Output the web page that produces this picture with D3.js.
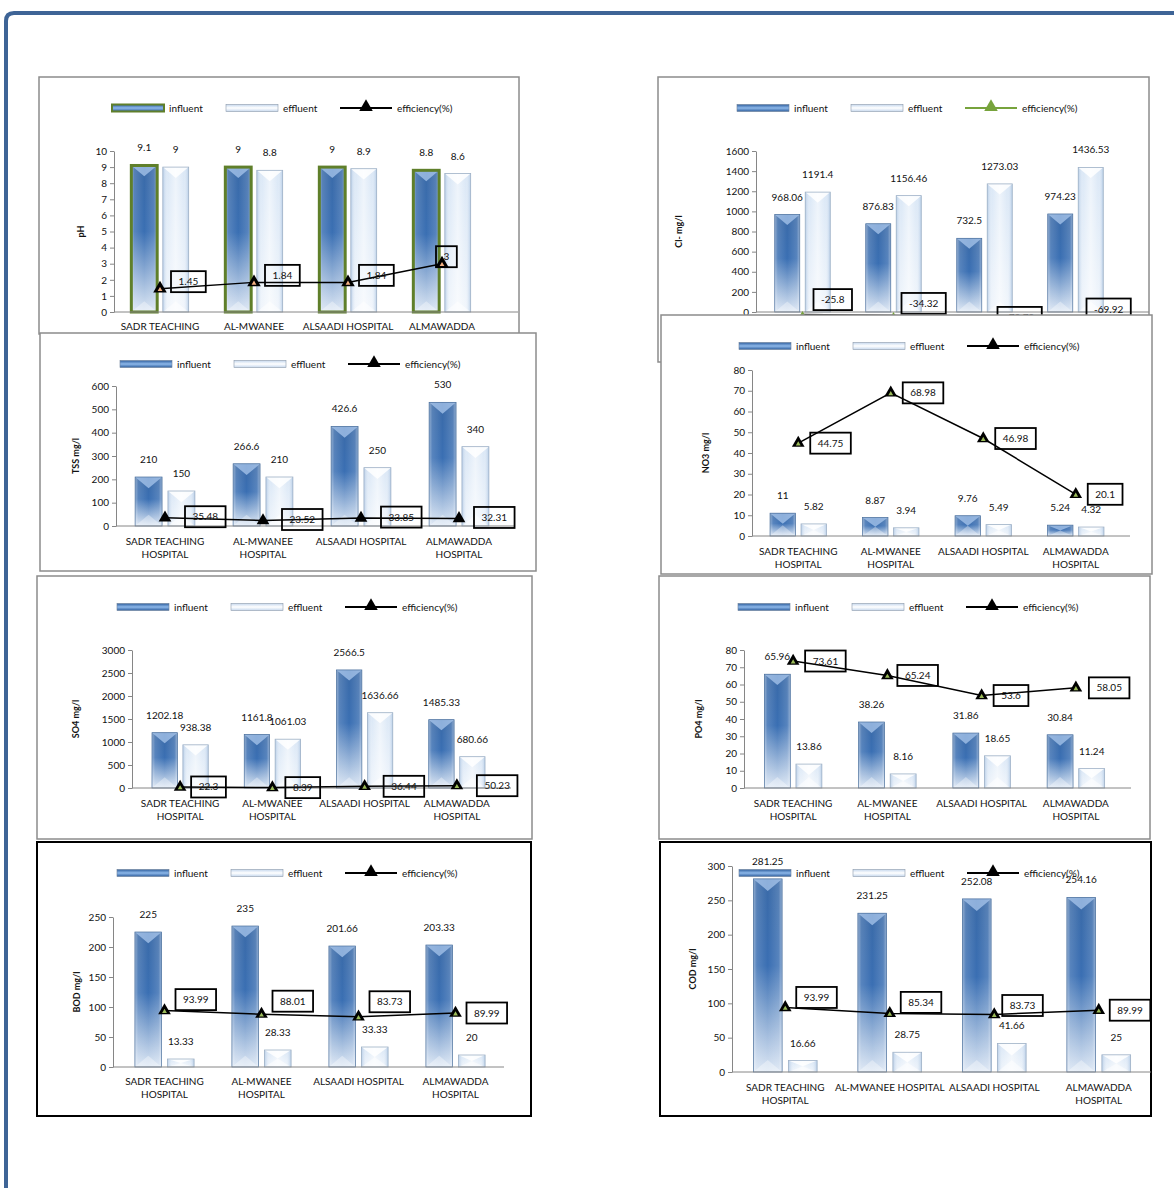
<!DOCTYPE html>
<html>
<head>
<meta charset="utf-8">
<script src="https://cdn.jsdelivr.net/npm/d3@7"></script>
<style>
body { margin: 0; background: #fff; }
svg text { font-family: Lato, "Liberation Sans", sans-serif; fill: #111; }
</style>
</head>
<body>
<svg id="fig" width="1174" height="1188"></svg>
<script>
// categories and labels
var hospitals = ["SADR TEACHING HOSPITAL", "AL-MWANEE HOSPITAL", "ALSAADI HOSPITAL", "ALMAWADDA HOSPITAL"];
var catLines = [["SADR TEACHING", "HOSPITAL"], ["AL-MWANEE", "HOSPITAL"], ["ALSAADI HOSPITAL"], ["ALMAWADDA", "HOSPITAL"]];
var catLinesCod = [["SADR TEACHING", "HOSPITAL"], ["AL-MWANEE HOSPITAL"], ["ALSAADI HOSPITAL"], ["ALMAWADDA", "HOSPITAL"]];

// values
var phIn = [9.1, 9, 9, 8.8], phOut = [9, 8.8, 8.9, 8.6], phEff = [1.45, 1.84, 1.84, 3];
var clIn = [968.06, 876.83, 732.5, 974.23], clOut = [1191.4, 1156.46, 1273.03, 1436.53], clEff = [-25.8, -34.32, -73.79, -69.92];
var tssIn = [210, 266.6, 426.6, 530], tssOut = [150, 210, 250, 340], tssEff = [35.48, 23.52, 33.85, 32.31];
var no3In = [11, 8.87, 9.76, 5.24], no3Out = [5.82, 3.94, 5.49, 4.32], no3Eff = [44.75, 68.98, 46.98, 20.1];
var so4In = [1202.18, 1161.8, 2566.5, 1485.33], so4Out = [938.38, 1061.03, 1636.66, 680.66], so4Eff = [22.3, 8.39, 36.44, 50.23];
var po4In = [65.96, 38.26, 31.86, 30.84], po4Out = [13.86, 8.16, 18.65, 11.24], po4Eff = [73.61, 65.24, 53.6, 58.05];
var bodIn = [225, 235, 201.66, 203.33], bodOut = [13.33, 28.33, 33.33, 20], bodEff = [93.99, 88.01, 83.73, 89.99];
var codIn = [281.25, 231.25, 252.08, 254.16], codOut = [16.66, 28.75, 41.66, 25], codEff = [93.99, 85.34, 83.73, 89.99];

// y tick labels
var phTicks = [0, 1, 2, 3, 4, 5, 6, 7, 8, 9, 10];
var clTicks = [0, 200, 400, 600, 800, 1000, 1200, 1400, 1600];
var tssTicks = [0, 100, 200, 300, 400, 500, 600];
var no3Ticks = [0, 10, 20, 30, 40, 50, 60, 70, 80];
var so4Ticks = [0, 500, 1000, 1500, 2000, 2500, 3000];
var po4Ticks = [0, 10, 20, 30, 40, 50, 60, 70, 80];
var bodTicks = [0, 50, 100, 150, 200, 250];
var codTicks = [0, 50, 100, 150, 200, 250, 300];

var seriesNames = ["influent", "effluent", "efficiency(%)"];

var FS = 10;

var svg = d3.select("#fig");
svg.append("rect").attr("width", 1174).attr("height", 1188).attr("fill", "#fff");

// gradients for the bevelled bars
var defs = svg.append("defs");
function grad(id, stops, vertical) {
  var lg = defs.append("linearGradient").attr("id", id)
    .attr("x1", 0).attr("y1", 0).attr("x2", vertical ? 0 : 1).attr("y2", vertical ? 1 : 0);
  stops.forEach(function (s) {
    lg.append("stop").attr("offset", s[0]).attr("stop-color", s[1]).attr("stop-opacity", s[2] == null ? 1 : s[2]);
  });
}
grad("inV", [[0, "#3a6aa8"], [0.45, "#3a6fb3"], [1, "#dbe6f4"]], true);
grad("inH", [[0, "#ffffff", 0.45], [0.12, "#ffffff", 0.15], [0.5, "#ffffff", 0], [0.88, "#ffffff", 0.15], [1, "#ffffff", 0.45]], false);
grad("outV", [[0, "#d2e2f4"], [1, "#eef4fb"]], true);
grad("outH", [[0, "#b4cbe6", 0.9], [0.2, "#ffffff", 0.2], [0.5, "#ffffff", 0.6], [0.8, "#ffffff", 0.2], [1, "#b4cbe6", 0.9]], false);
grad("legIn", [[0, "#2f5f9e"], [0.5, "#8db8ea"], [1, "#2f5f9e"]], true);
grad("legOut", [[0, "#c6d8ee"], [0.5, "#ffffff"], [1, "#c6d8ee"]], true);

// outer frame
svg.append("path").attr("d", "M6,1188 V21 Q6,13 14,13 H1174")
  .attr("fill", "none").attr("stroke", "#3e6496").attr("stroke-width", 4);

var panels = [
  { title: "pH", inf: phIn, out: phOut, pct: phEff, ticks: phTicks, cats: catLines,
    box: [39, 77, 480, 257], border: "#8c8c8c", bw: 1.5,
    ax: 114, x0: 113, x1: 489, xEnd: 518, y0: 312, yTop: 151, titleX: 81, legX: 73, catY: 14,
    dx: [11, 11, 11, -6], dy: [-7, -7, -7, -7], mk: 80, mkFill: "#000", dot: "#f4b183",
    lineColor: "#000", legColor: "#000", inStroke: "#5f7f2a" },
  // category labels of this panel lie under the NO3 panel, as in the figure
  { title: "Cl- mg/l", inf: clIn, out: clOut, pct: clEff, ticks: clTicks, cats: null,
    box: [658, 77, 491, 285], border: "#8c8c8c", bw: 1.5,
    ax: 756, x0: 757, x1: 1121, xEnd: 1149, y0: 312, yTop: 151, titleX: 679, legX: 79, catY: 15,
    dx: [11, 8, 13, 11], dy: [-15, -12, -2, -10], mk: 16, mkFill: "#77a33c", dot: null,
    lineColor: "#000", legColor: "#77a33c" },
  { title: "TSS mg/l", inf: tssIn, out: tssOut, pct: tssEff, ticks: tssTicks, cats: catLines,
    box: [40, 333, 496, 238], border: "#8c8c8c", bw: 1.5,
    ax: 116, x0: 116, x1: 508, xEnd: 515, y0: 526, yTop: 386, titleX: 76, legX: 80, catY: 15,
    dx: [20, 19, 20, 15], dy: [-1, -1, -1, -1], mk: 70, mkFill: "#000", dot: null,
    lineColor: "#000", legColor: "#000" },
  { title: "NO3 mg/l", inf: no3In, out: no3Out, pct: no3Eff, ticks: no3Ticks, cats: catLines,
    box: [661, 315, 491, 259], border: "#8c8c8c", bw: 1.5,
    ax: 752, x0: 752, x1: 1122, xEnd: 1130, y0: 536, yTop: 370, titleX: 706, legX: 78, catY: 15,
    dx: [12, 12, 12, 12], dy: [0, 0, 0, 0], mk: 70, mkFill: "#000", dot: "#9bbb59",
    lineColor: "#000", legColor: "#000" },
  { title: "SO4 mg/l", inf: so4In, out: so4Out, pct: so4Eff, ticks: so4Ticks, cats: catLines,
    box: [37, 576, 495, 263], border: "#8c8c8c", bw: 1.5,
    ax: 132, x0: 134, x1: 503, xEnd: 511, y0: 788, yTop: 650, titleX: 76, legX: 80, catY: 15,
    dx: [11, 13, 19, 20], dy: [0, 0, 0, 0], mk: 70, mkFill: "#000", dot: "#9bbb59",
    lineColor: "#000", legColor: "#000" },
  { title: "PO4 mg/l", inf: po4In, out: po4Out, pct: po4Eff, ticks: po4Ticks, cats: catLines,
    box: [659, 576, 491, 263], border: "#8c8c8c", bw: 1.5,
    ax: 744, x0: 746, x1: 1123, xEnd: 1131, y0: 788, yTop: 650, titleX: 699, legX: 79, catY: 15,
    dx: [12, 10, 12, 13], dy: [0, 0, 0, 0], mk: 70, mkFill: "#000", dot: "#9bbb59",
    lineColor: "#000", legColor: "#000" },
  { title: "BOD mg/l", inf: bodIn, out: bodOut, pct: bodEff, ticks: bodTicks, cats: catLines,
    box: [37, 842, 494, 274], border: "#000", bw: 2,
    ax: 113, x0: 116, x1: 504, xEnd: 504, y0: 1067, yTop: 917, titleX: 77, legX: 80, catY: 14,
    dx: [11, 11, 11, 11], dy: [-11, -13, -15, 0], mk: 70, mkFill: "#000", dot: "#9bbb59",
    lineColor: "#000", legColor: "#000" },
  { title: "COD mg/l", inf: codIn, out: codOut, pct: codEff, ticks: codTicks, cats: catLinesCod,
    box: [660, 842, 491, 274], border: "#000", bw: 2,
    ax: 732, x0: 733, x1: 1151, xEnd: 1151, y0: 1072, yTop: 866, titleX: 693, legX: 79, catY: 15,
    dx: [11, 11, 8, 11], dy: [-10, -11, -9, 0], mk: 70, mkFill: "#000", dot: "#9bbb59",
    lineColor: "#000", legColor: "#000" }
];

function drawBar(g, x, yTop, w, yBase, kind, stroke) {
  var h = Math.max(yBase - yTop, 0);
  var d = Math.min(w * 0.42, h / 2);
  if (kind == "in") {
    g.append("rect").attr("x", x).attr("y", yTop).attr("width", w).attr("height", h)
      .attr("fill", "url(#inV)");
    g.append("rect").attr("x", x).attr("y", yTop).attr("width", w).attr("height", h)
      .attr("fill", "url(#inH)");
    g.append("path").attr("d", "M" + x + "," + yTop + "H" + (x + w) + "L" + (x + w / 2) + "," + (yTop + d) + "Z")
      .attr("fill", "#a9c7ec").attr("opacity", 0.75);
    g.append("path").attr("d", "M" + x + "," + yBase + "H" + (x + w) + "L" + (x + w / 2) + "," + (yBase - d) + "Z")
      .attr("fill", "#ffffff").attr("opacity", 0.35);
    g.append("rect").attr("x", x).attr("y", yTop).attr("width", w).attr("height", h)
      .attr("fill", "none").attr("stroke", stroke || "#4a6f9c").attr("stroke-width", stroke ? 3 : 0.7);
  } else {
    g.append("rect").attr("x", x).attr("y", yTop).attr("width", w).attr("height", h)
      .attr("fill", "url(#outV)");
    g.append("rect").attr("x", x).attr("y", yTop).attr("width", w).attr("height", h)
      .attr("fill", "url(#outH)");
    g.append("path").attr("d", "M" + x + "," + yTop + "H" + (x + w) + "L" + (x + w / 2) + "," + (yTop + d) + "Z")
      .attr("fill", "#ffffff").attr("opacity", 0.85);
    g.append("path").attr("d", "M" + x + "," + yBase + "H" + (x + w) + "L" + (x + w / 2) + "," + (yBase - d) + "Z")
      .attr("fill", "#ffffff").attr("opacity", 0.5);
    g.append("rect").attr("x", x).attr("y", yTop).attr("width", w).attr("height", h)
      .attr("fill", "none").attr("stroke", "#9fb1c6").attr("stroke-width", 0.8);
  }
}

function drawLegend(g, p) {
  var lx = p.box[0] + p.legX, ly = p.box[1] + 31;
  g.append("rect").attr("x", lx).attr("y", ly - 3.5).attr("width", 52).attr("height", 7)
    .attr("fill", "url(#legIn)").attr("stroke", p.inStroke || "#6b7f99").attr("stroke-width", p.inStroke ? 2 : 0.6);
  g.append("rect").attr("x", lx + 114).attr("y", ly - 3.5).attr("width", 52).attr("height", 7)
    .attr("fill", "url(#legOut)").attr("stroke", "#8c9aab").attr("stroke-width", 0.6);
  g.append("line").attr("x1", lx + 228).attr("x2", lx + 280).attr("y1", ly).attr("y2", ly)
    .attr("stroke", p.legColor).attr("stroke-width", 2);
  g.append("path").attr("d", d3.symbol(d3.symbolTriangle, 80)())
    .attr("transform", "translate(" + (lx + 254) + "," + (ly - 1) + ")").attr("fill", p.legColor);
  var tx = [lx + 57, lx + 171, lx + 285];
  seriesNames.forEach(function (s, i) {
    g.append("text").attr("x", tx[i]).attr("y", ly).attr("dy", "0.35em")
      .attr("font-size", FS).text(s);
  });
}

function drawPanel(p) {
  var g = svg.append("g");
  g.append("rect").attr("x", p.box[0]).attr("y", p.box[1]).attr("width", p.box[2]).attr("height", p.box[3])
    .attr("fill", "#fff").attr("stroke", p.border).attr("stroke-width", p.bw);

  var y = d3.scaleLinear().domain([p.ticks[0], p.ticks[p.ticks.length - 1]]).range([p.y0, p.yTop]);
  var x = d3.scaleBand().domain(hospitals).range([p.x0, p.x1]);
  var S = x.bandwidth(), w = S * 0.275, gap = S * 0.06;
  var cx = function (i) { return x(hospitals[i]) + S / 2; };

  drawLegend(g, p);

  // y axis
  var ax = g.append("g").attr("transform", "translate(" + p.ax + ",0)")
    .call(d3.axisLeft(y).tickValues(p.ticks).tickSize(4).tickSizeOuter(0).tickPadding(3).tickFormat(function (d) { return d; }));
  ax.select(".domain").attr("stroke", "#868686");
  ax.selectAll(".tick line").attr("stroke", "#868686");
  ax.selectAll(".tick text").attr("font-size", FS).attr("font-family", "Lato, sans-serif").attr("fill", "#111");

  // axis title
  g.append("text").attr("transform", "translate(" + p.titleX + "," + ((p.y0 + p.yTop) / 2) + ") rotate(-90)")
    .attr("text-anchor", "middle").attr("dy", "0.35em").attr("font-size", 9).attr("font-weight", "bold").text(p.title);

  // bars
  var bars = g.append("g");
  hospitals.forEach(function (h, i) {
    var c = cx(i);
    drawBar(bars, c - gap / 2 - w, y(p.inf[i]), w, p.y0, "in", p.inStroke);
    drawBar(bars, c + gap / 2, y(p.out[i]), w, p.y0, "out");
  });

  // baseline
  g.append("line").attr("x1", p.ax).attr("x2", p.xEnd).attr("y1", p.y0).attr("y2", p.y0)
    .attr("stroke", "#868686").attr("stroke-width", 1);

  // bar value labels
  hospitals.forEach(function (h, i) {
    var c = cx(i);
    g.append("text").attr("x", c - gap / 2 - w / 2).attr("y", y(p.inf[i]) - 17.5).attr("dy", "0.35em")
      .attr("text-anchor", "middle").attr("font-size", FS).text(p.inf[i]);
    g.append("text").attr("x", c + gap / 2 + w / 2).attr("y", y(p.out[i]) - 17.5).attr("dy", "0.35em")
      .attr("text-anchor", "middle").attr("font-size", FS).text(p.out[i]);
  });

  // category labels
  if (p.cats) {
    hospitals.forEach(function (h, i) {
      p.cats[i].forEach(function (ln, k) {
        g.append("text").attr("x", cx(i)).attr("y", p.y0 + p.catY + k * 13).attr("dy", "0.35em")
          .attr("text-anchor", "middle").attr("font-size", FS).text(ln);
      });
    });
  }

  // efficiency line
  var line = d3.line().x(function (d, i) { return cx(i); }).y(function (d) { return y(d); });
  g.append("path").datum(p.pct).attr("d", line).attr("fill", "none")
    .attr("stroke", p.lineColor).attr("stroke-width", 1.5);

  // labels in boxes
  p.pct.forEach(function (v, i) {
    var px = cx(i), py = y(v);
    var lg = g.append("g");
    var t = lg.append("text").attr("y", py + p.dy[i]).attr("dy", "0.35em")
      .attr("text-anchor", "middle").attr("font-size", FS).text(v);
    var tw = t.node().getComputedTextLength();
    var bwid = tw + 15;
    t.attr("x", px + p.dx[i] + bwid / 2);
    lg.insert("rect", "text").attr("x", px + p.dx[i]).attr("y", py + p.dy[i] - 10.5)
      .attr("width", bwid).attr("height", 21).attr("fill", "none")
      .attr("stroke", "#000").attr("stroke-width", 1.8);
  });

  // markers
  p.pct.forEach(function (v, i) {
    g.append("path").attr("d", d3.symbol(d3.symbolTriangle, p.mk)())
      .attr("transform", "translate(" + cx(i) + "," + y(v) + ")").attr("fill", p.mkFill);
    if (p.dot) {
      g.append("path").attr("d", d3.symbol(d3.symbolTriangle, 10)())
        .attr("transform", "translate(" + cx(i) + "," + (y(v) + 1) + ")").attr("fill", p.dot);
    }
  });
}

panels.forEach(drawPanel);
</script>
</body>
</html>
